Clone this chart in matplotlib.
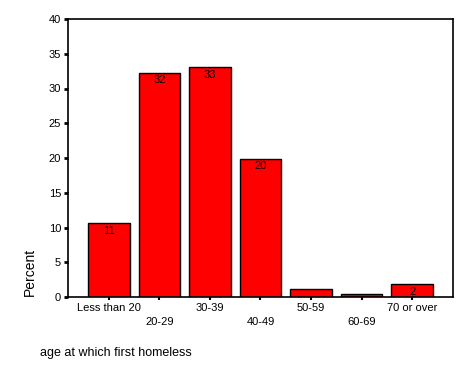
import numpy as np
import matplotlib.pyplot as plt

plt.rcParams['font.family'] = ['Liberation Sans', 'DejaVu Sans']

categories = ["Less than 20", "20-29", "30-39", "40-49", "50-59", "60-69", "70 or over"]
percent = [10.6, 32.3, 33.1, 19.9, 1.2, 0.5, 1.8]

fig = plt.figure(figsize=(4.72, 3.77), dpi=100)
ax = fig.add_axes([68 / 472, 1 - 297 / 377, (453 - 68) / 472, (297 - 19) / 377])

x = np.arange(len(categories))
ax.bar(x, percent, width=0.82, color="#ff0000", edgecolor="black", linewidth=1.0)

# value labels just under the top of each bar (small bars skipped)
for xi, v in zip(x, percent):
    if v >= 1.5:
        ax.annotate(f"{round(v)}", (xi, v), xytext=(0, -2), textcoords="offset points",
                    ha="center", va="top", fontsize=8)

ax.set_xlim(-0.81, len(categories) - 1 + 0.81)
ax.set_ylim(0, 40)
ax.set_yticks(range(0, 41, 5))
ax.tick_params(axis="y", direction="out", length=3, width=2, labelsize=8, pad=2)
ax.tick_params(axis="x", direction="out", length=2, width=1.5, labelsize=8, pad=2)

ax.set_xticks(x)
labels = [c if i % 2 == 0 else "\n" + c for i, c in enumerate(categories)]
ax.set_xticklabels(labels, linespacing=1.6)

for s in ax.spines.values():
    s.set_linewidth(1.2)

fig.text(30 / 472, 1 - 272 / 377, "Percent", rotation=90, ha="center", va="center", fontsize=10)
fig.text(40 / 472, 1 - 353 / 377, "age at which first homeless", ha="left", va="center", fontsize=9)

fig.savefig("out.png", dpi=100)
